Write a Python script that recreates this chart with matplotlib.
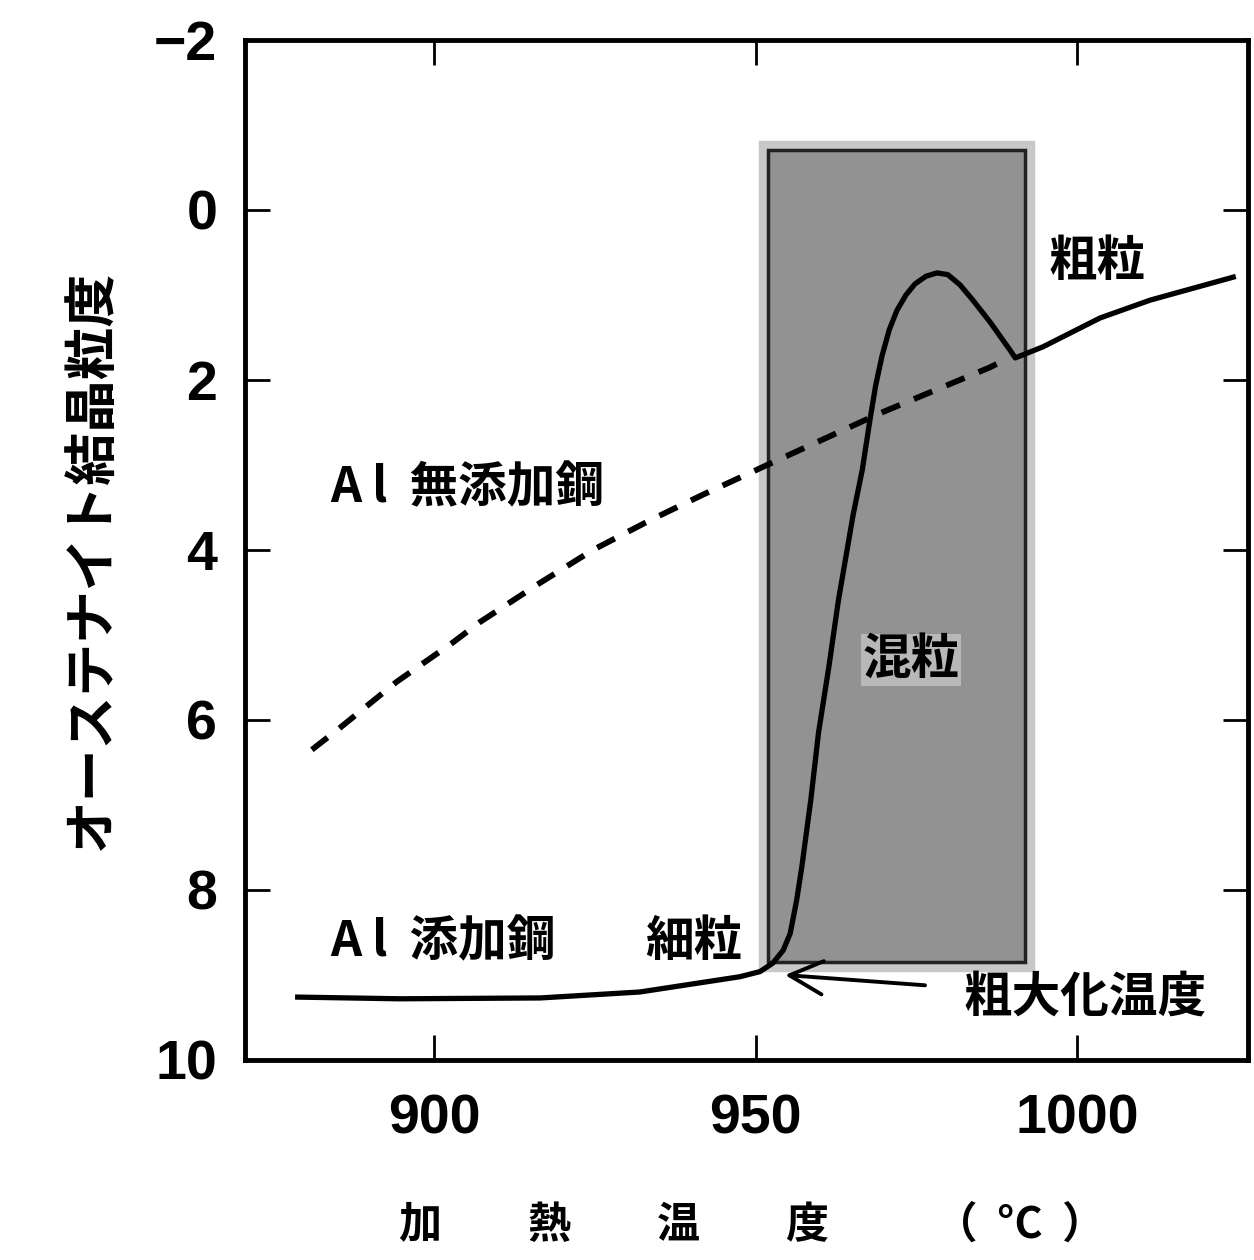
import matplotlib
matplotlib.use("Agg")
import matplotlib.pyplot as plt
from matplotlib.patches import Rectangle
import matplotlib.patheffects as pe

plt.rcParams['font.family'] = ['Noto Sans CJK JP', 'DejaVu Sans']

# --- data ---
# Al-killed steel (solid curve): heating temperature (°C) vs austenite grain size number
al_temp = [878.8, 894.7, 916.5, 932.0, 947.6, 950.7, 952.7, 954.3, 955.4, 956.4,
           957.2, 958.6, 959.8, 961.4, 962.9, 965.2, 966.6, 967.8, 968.7, 969.7,
           970.8, 972.0, 973.4, 974.8, 976.5, 978.2, 979.9, 981.8, 983.8, 986.5,
           989.6, 990.4, 994.7, 1003.6, 1011.4, 1024.3]
al_grain = [9.26, 9.28, 9.27, 9.20, 9.02, 8.96, 8.86, 8.71, 8.51, 8.12,
            7.73, 6.94, 6.15, 5.38, 4.59, 3.58, 3.06, 2.47, 2.06, 1.71,
            1.41, 1.18, 1.00, 0.87, 0.78, 0.74, 0.76, 0.88, 1.06, 1.32,
            1.65, 1.74, 1.61, 1.27, 1.06, 0.79]

# Steel without Al (dashed curve)
noal_temp = [881.0, 885.4, 894.2, 902.9, 907.1, 916.0, 924.7, 933.6, 941.8,
             951.8, 969.4, 986.5, 989.6]
noal_grain = [6.35, 6.09, 5.55, 5.09, 4.85, 4.41, 4.00, 3.65, 3.35,
              3.00, 2.39, 1.85, 1.73]

# mixed-grain region
mixed_temp = [951.9, 991.9]
mixed_grain = [-0.71, 8.85]

# coarsening temperature arrow (tip, text anchor)
coarsen_tip = (954.6, 9.00)
coarsen_text = (982.4, 9.26)

xticks = [900, 950, 1000]
yticks = [-2, 0, 2, 4, 6, 8, 10]
xlim = (870.6, 1026.6)
ylim = (10, -2)

# --- figure ---
fig = plt.figure(figsize=(12.54, 12.6), dpi=100, facecolor='white')
ax = fig.add_axes([245/1254, 1 - 1060/1260, (1248-245)/1254, (1060-40)/1260])
ax.set_facecolor('white')

# mixed-grain box
rect = Rectangle((mixed_temp[0], mixed_grain[0]), mixed_temp[1]-mixed_temp[0],
                 mixed_grain[1]-mixed_grain[0], facecolor='#929292',
                 edgecolor='#222222', linewidth=2.5, zorder=1)
rect.set_path_effects([pe.Stroke(linewidth=14, foreground='#c8c8c8'), pe.Normal()])
ax.add_patch(rect)

ax.plot(noal_temp, noal_grain, color='black', lw=4.2, linestyle=(0, (3.4, 2.6)),
        solid_capstyle='butt', zorder=3)
ax.plot(al_temp, al_grain, color='black', lw=3.8, solid_joinstyle='round', zorder=4)

ax.set_xlim(*xlim)
ax.set_ylim(*ylim)
ax.set_xticks(xticks)
ax.set_yticks(yticks)
ax.set_xticklabels([str(v) for v in xticks])
ax.set_yticklabels([('\u2212' + str(-v)) if v < 0 else str(v) for v in yticks])

for s in ax.spines.values():
    s.set_linewidth(3.5)
ax.tick_params(direction='in', length=18, width=2, top=True, right=True)
ax.tick_params(axis='y', pad=20)
ax.tick_params(axis='x', pad=24)
for lab in ax.get_xticklabels() + ax.get_yticklabels():
    lab.set_family(['Liberation Sans', 'DejaVu Sans'])
    lab.set_fontweight('bold')
    lab.set_fontsize(40)

ax.set_xlabel('加　　熱　　温　　度　　  （  °C  ）', fontsize=31, fontweight='bold')
ax.xaxis.set_label_coords(0.506, -0.14)
ax.set_ylabel('オーステナイト結晶粒度', fontsize=38, fontweight='bold')
ax.yaxis.set_label_coords(-0.127, 0.49)

txt = dict(fontsize=35, fontweight='bold', color='black')
ax.text(883.8, 3.27, 'A l  無添加鋼', ha='left', va='center', **txt)
ax.text(883.8, 8.61, 'A l  添加鋼', ha='left', va='center', **txt)
ax.text(932.8, 8.61, '細粒', ha='left', va='center', **txt)
ax.text(995.5, 0.61, '粗粒', ha='left', va='center', **txt)
ax.text(966.6, 5.29, '混粒', ha='left', va='center', zorder=5,
        bbox=dict(facecolor='#b8b8b8', edgecolor='none', pad=1), **txt)
ax.annotate('粗大化温度', xy=coarsen_tip, xytext=coarsen_text,
            ha='left', va='center', fontsize=35, fontweight='bold',
            arrowprops=dict(arrowstyle='->', color='black', lw=2.8,
                            mutation_scale=60, shrinkA=26, shrinkB=0))

fig.savefig('out.png', dpi=100, facecolor='white')
